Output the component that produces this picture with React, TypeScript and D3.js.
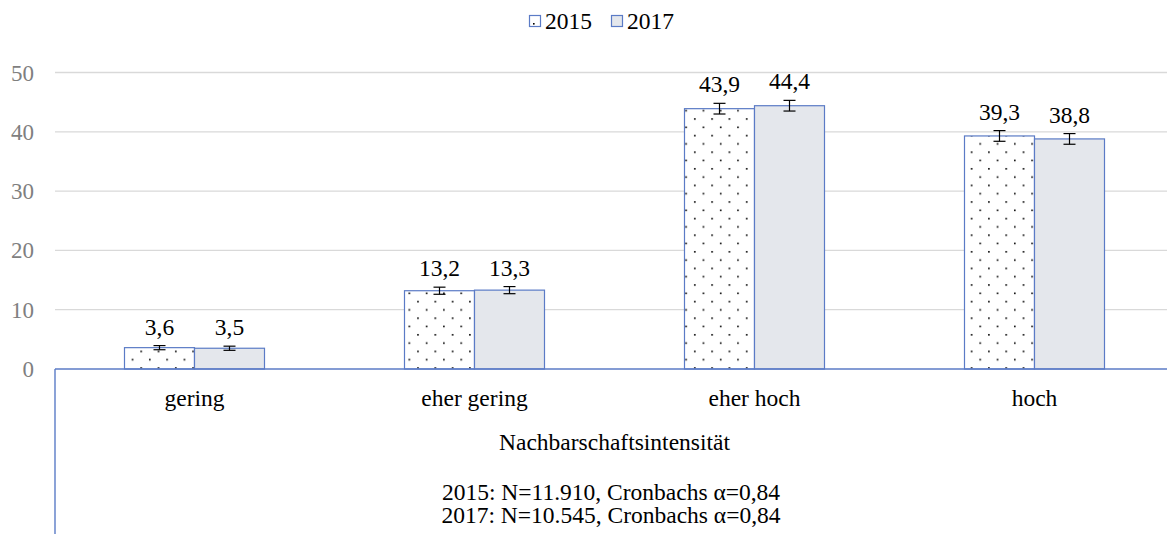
import React from "react";
import * as d3 from "d3";

const categories = ["gering", "eher gering", "eher hoch", "hoch"];
const series = ["2015", "2017"];
const values2015 = [3.6, 13.2, 43.9, 39.3];
const values2017 = [3.5, 13.3, 44.4, 38.8];
const errors2015 = [0.35, 0.6, 0.9, 0.9];
const errors2017 = [0.35, 0.6, 0.9, 0.9];
const yTicks = [0, 10, 20, 30, 40, 50];
const axisTitle = "Nachbarschaftsintensität";
const notes = ["2015: N=11.910, Cronbachs α=0,84", "2017: N=10.545, Cronbachs α=0,84"];

const W = 1167;
const H = 534;
const FONT = "Liberation Serif, Tinos, Times New Roman, serif";
const BLUE = "#5b7bc6";
const GREY_FILL = "#e4e7ec";
const FS = 23.5;

const fmt = (v: number) => v.toFixed(1).replace(".", ",");
const ts = { fontFamily: FONT };

export default function App() {
  const x0 = d3.scaleBand().domain(categories).range([54.5, 1174.5]).paddingInner(0).paddingOuter(0);
  const x1 = d3.scaleBand().domain(series).range([0, x0.bandwidth()]).paddingInner(0).paddingOuter(1);
  const y = d3.scaleLinear().domain([0, 50]).range([369, 72.5]);

  const data = [
    { key: "2015", values: values2015, errors: errors2015 },
    { key: "2017", values: values2017, errors: errors2017 },
  ];

  return (
    <svg width={W} height={H} style={{ position: "absolute", left: 0, top: 0, display: "block", fontFamily: FONT }}>
      <defs>
        <pattern id="dots" patternUnits="userSpaceOnUse" width={17.3} height={16.6} x={0} y={0}>
          <rect width={17.3} height={16.6} fill="#ffffff" />
          <rect x={2} y={2} width={1.6} height={1.6} fill="#000" />
          <rect x={10.6} y={10.3} width={1.6} height={1.6} fill="#000" />
        </pattern>
      </defs>
      <rect width={W} height={H} fill="#fff" />

      {yTicks.filter((t) => t > 0).map((t) => (
        <line key={t} x1={55} x2={W} y1={y(t)} y2={y(t)} stroke="#d9d9d9" strokeWidth={1.3} />
      ))}
      {yTicks.map((t) => (
        <text key={"l" + t} x={34} y={y(t)} dy="0.35em" textAnchor="end" fontSize={23} fill="#7f7f7f" style={ts}>
          {t}
        </text>
      ))}

      {data.map((s) =>
        categories.map((c, i) => {
          const bx = (x0(c) as number) + (x1(s.key) as number);
          const bw = x1.bandwidth();
          const v = s.values[i];
          return (
            <rect
              key={s.key + c}
              x={bx}
              y={y(v)}
              width={bw}
              height={y(0) - y(v)}
              fill={s.key === "2015" ? "url(#dots)" : GREY_FILL}
              stroke={BLUE}
              strokeWidth={1.2}
            />
          );
        })
      )}

      {data.map((s) =>
        categories.map((c, i) => {
          const cx = (x0(c) as number) + (x1(s.key) as number) + x1.bandwidth() / 2;
          const v = s.values[i];
          const e = s.errors[i];
          const yt = y(v + e);
          const yb = y(v - e);
          return (
            <g key={"e" + s.key + c}>
              <line x1={cx} x2={cx} y1={yt} y2={yb} stroke="#000" strokeWidth={1.2} />
              <line x1={cx - 6} x2={cx + 6} y1={yt} y2={yt} stroke="#000" strokeWidth={1.2} />
              <line x1={cx - 6} x2={cx + 6} y1={yb} y2={yb} stroke="#000" strokeWidth={1.2} />
              <text x={cx} y={yt - 11} textAnchor="middle" fontSize={FS} fill="#000" style={ts}>
                {fmt(v)}
              </text>
            </g>
          );
        })
      )}

      <line x1={55} x2={W} y1={y(0)} y2={y(0)} stroke={BLUE} strokeWidth={1.4} />
      <line x1={55} x2={55} y1={y(0)} y2={H} stroke={BLUE} strokeWidth={1.4} />

      {categories.map((c) => (
        <text key={"c" + c} x={(x0(c) as number) + x0.bandwidth() / 2} y={406} textAnchor="middle" fontSize={FS} fill="#000" style={ts}>
          {c}
        </text>
      ))}

      <text x={614.5} y={450} textAnchor="middle" fontSize={FS} fill="#000" style={ts}>
        {axisTitle}
      </text>
      {notes.map((n, i) => (
        <text key={n} x={611} y={500 + i * 23} textAnchor="middle" fontSize={FS} fill="#000" style={ts}>
          {n}
        </text>
      ))}

      <g>
        <rect x={529.5} y={15.5} width={11} height={11} fill="#fff" stroke={BLUE} strokeWidth={1.2} />
        <rect x={533} y={23} width={1.6} height={1.6} fill="#000" />
        <text x={545} y={29} fontSize={FS} fill="#000" style={ts}>{series[0]}</text>
        <rect x={611.5} y={15.5} width={11} height={11} fill={GREY_FILL} stroke={BLUE} strokeWidth={1.2} />
        <text x={627} y={29} fontSize={FS} fill="#000" style={ts}>{series[1]}</text>
      </g>
    </svg>
  );
}
